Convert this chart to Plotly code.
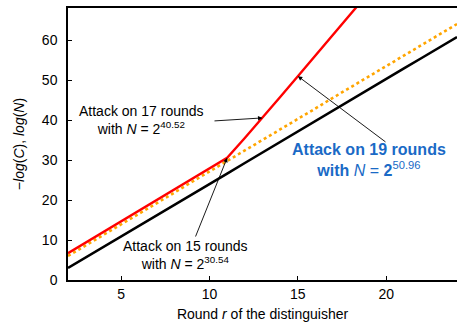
import plotly.graph_objects as go

# Data
rounds_red = [2, 3, 4, 5, 6, 7, 8, 9, 10, 11, 12, 13, 14, 15, 16, 17, 18, 19]
red_vals = [6.7, 9.35, 12.0, 14.65, 17.3, 19.95, 22.6, 25.24, 27.89, 30.54,
            35.5, 40.52, 45.74, 50.96, 56.2, 61.4, 66.6, 71.8]

rounds_all = list(range(2, 25))
orange_vals = [6.0, 8.6, 11.3, 13.9, 16.5, 19.2, 21.8, 24.5, 27.1, 29.7, 32.4, 35.0,
               37.6, 40.3, 42.9, 45.6, 48.2, 50.8, 53.5, 56.1, 58.7, 61.4, 64.0]
black_vals = [3.0, 5.6, 8.25, 10.9, 13.5, 16.1, 18.75, 21.4, 24.0, 26.6, 29.25, 31.9,
              34.5, 37.1, 39.75, 42.4, 45.0, 47.6, 50.25, 52.9, 55.5, 58.1, 60.75]

x_ticks = [5, 10, 15, 20]
y_ticks = [0, 10, 20, 30, 40, 50, 60]

FONT = "Liberation Sans, Arial, Helvetica, sans-serif"

fig = go.Figure()
fig.add_trace(go.Scatter(x=rounds_all, y=black_vals, mode="lines",
                         line=dict(color="black", width=2.6), showlegend=False))
fig.add_trace(go.Scatter(x=rounds_all, y=orange_vals, mode="lines",
                         line=dict(color="#FFA500", width=2.6, dash="dot"), showlegend=False))
fig.add_trace(go.Scatter(x=rounds_red, y=red_vals, mode="lines",
                         line=dict(color="#FF0000", width=2.4), showlegend=False))

def red_at(r):
    return red_vals[rounds_red.index(r)]

arrow = dict(showarrow=True, arrowhead=2, arrowsize=1.0, arrowwidth=0.9,
             arrowcolor="black", axref="x", ayref="y", text="")

annotations = [
    dict(x=13, y=red_at(13), ax=10.2, ay=39.75, **arrow),
    dict(x=11, y=red_at(11), ax=9.18, ay=10.5, **arrow),
    dict(x=15, y=red_at(15), ax=20.04, ay=34.25, **arrow),
    dict(x=6.13, y=40.0, showarrow=False, align="center",
         text="Attack on 17 rounds<br>with <i>N</i> = 2<sup>40.52</sup>",
         font=dict(family=FONT, size=14, color="black")),
    dict(x=8.67, y=6.3, showarrow=False, align="center",
         text="Attack on 15 rounds<br>with <i>N</i> = 2<sup>30.54</sup>",
         font=dict(family=FONT, size=14, color="black")),
    dict(x=19.02, y=30.0, showarrow=False, align="center",
         text="<b>Attack on 19 rounds<br>with </b><i>N</i> = <b>2</b><sup>50.96</sup>",
         font=dict(family=FONT, size=16, color="#1a6ac6")),
]

fig.update_layout(
    width=457, height=322,
    margin=dict(l=68, r=0, t=8, b=42),
    paper_bgcolor="white", plot_bgcolor="white",
    font=dict(family=FONT, size=14, color="black"),
    annotations=annotations,
    xaxis=dict(range=[2, 24], tickvals=x_ticks, ticks="inside", ticklen=4,
               tickcolor="black", showline=True, linecolor="black", linewidth=1.5,
               mirror=True, showgrid=False, zeroline=False,
               title=dict(text="Round <i>r</i> of the distinguisher", standoff=9,
                          font=dict(size=14))),
    yaxis=dict(range=[0, 68], tickvals=y_ticks, ticks="inside", ticklen=4,
               tickcolor="black", showline=True, linecolor="black", linewidth=1.5,
               mirror=False, showgrid=False, zeroline=False, ticklabelstandoff=6,
               title=dict(text="−<i>log</i>(<i>C</i>), <i>log</i>(<i>N</i>)", standoff=14,
                          font=dict(size=14))),
)

fig.write_html(
    "out.html",
    config={"displayModeBar": False},
    post_script="document.body.style.margin='0';document.body.style.overflow='hidden';",
)
